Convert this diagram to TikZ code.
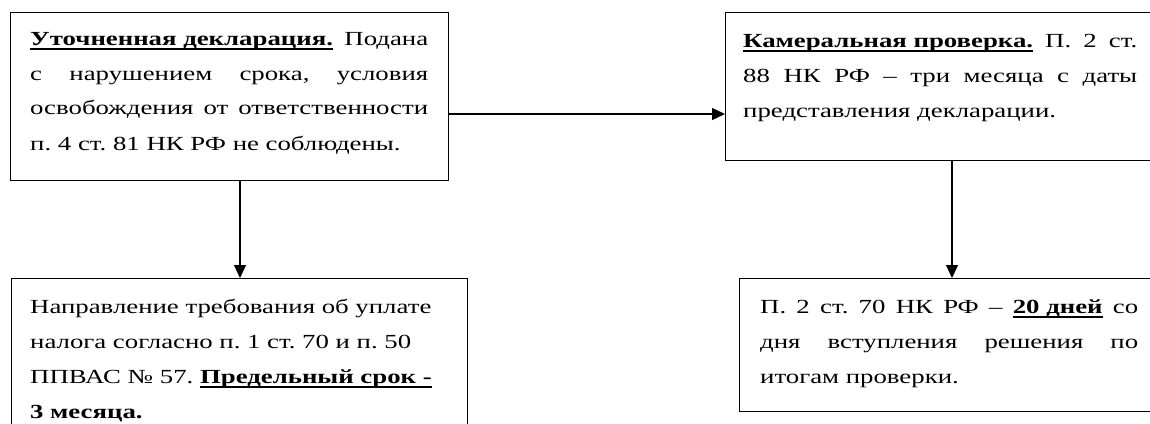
\documentclass[tikz,border=0pt]{standalone}
\usepackage{fontspec}
\setmainfont{Liberation Serif}[FakeStretch=1.34]
\usetikzlibrary{arrows.meta}
\frenchspacing
\newsavebox\ulbox
\newcommand\myul[1]{\sbox\ulbox{#1}\rlap{\rule[-4.6pt]{\wd\ulbox}{1.2pt}}\usebox\ulbox}
\begin{document}
\begin{tikzpicture}[x=1pt,y=-1pt,
  box/.style={draw=black, line width=1.3pt, inner sep=0pt, anchor=north west},
  txt/.style={anchor=base west, inner sep=0pt, font=\fontsize{20}{35}\selectfont\frenchspacing},
  arr/.style={line width=1.3pt, -{Triangle[length=13pt,width=12pt]}}]
\useasboundingbox (0,0) rectangle (1150,423);
\clip (0,0) rectangle (1150,423);
\fill[white] (0,0) rectangle (1150,423);
\node[box, minimum width=438pt, minimum height=168pt] (b1) at (10,12) {};
\node[box, minimum width=437pt, minimum height=148pt] (b2) at (725,12) {};
\node[box, minimum width=456pt, minimum height=200pt] (b3) at (11,278) {};
\node[box, minimum width=426pt, minimum height=133pt] (b4) at (739,278) {};
\node[txt, text width=398pt, align=justify] (t1) at (30,45) {\myul{\textbf{Уточненная декларация.}} Подана\linebreak с нарушением срока, условия\linebreak освобождения от ответственности\linebreak п. 4 ст. 81 НК РФ не соблюдены.};
\node[txt, text width=394pt, align=justify] (t2) at (743,47) {\myul{\textbf{Камеральная проверка.}} П. 2 ст.\linebreak 88 НК РФ – три месяца с даты\linebreak представления декларации.};
\node[txt, text width=430pt, align=left] (t3) at (30,313) {Направление требования об уплате\\ налога согласно п. 1 ст. 70 и п. 50\\ ППВАС № 57. \myul{\textbf{Предельный срок -}}\\ \textbf{3 месяца.}};
\node[txt, text width=378pt, align=justify] (t4) at (760,313) {П. 2 ст. 70 НК РФ – \myul{\textbf{20 дней}} со\linebreak дня вступления решения по\linebreak итогам проверки.};
\coordinate (h) at (0,114);
\coordinate (v1) at (240,0);
\coordinate (v2) at (952,0);
\draw[arr] (b1.east |- h) -- (b2.west |- h);
\draw[arr] (b1.south -| v1) -- (b3.north -| v1);
\draw[arr] (b2.south -| v2) -- (b4.north -| v2);
\end{tikzpicture}
\end{document}
